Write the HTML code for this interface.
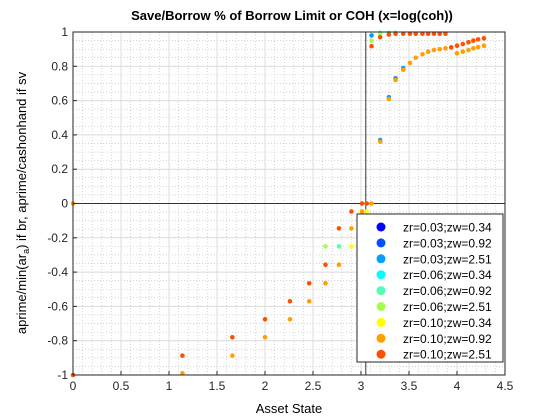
<!DOCTYPE html>
<html><head><meta charset="utf-8"><style>
body{margin:0;background:#fff;}
svg{display:block;font-family:"Liberation Sans",sans-serif;}
</style></head><body>
<svg id="chart" width="560" height="420" xmlns="http://www.w3.org/2000/svg">
<rect width="560" height="420" fill="#fff"/>
<g id="grid"></g>
<g id="marks"></g>
<g id="axes"></g>
<text x="292" y="20" text-anchor="middle" font-size="13" font-weight="bold">Save/Borrow % of Borrow Limit or COH (x=log(coh))</text>
<text x="289" y="413" text-anchor="middle" font-size="13">Asset State</text>
<text transform="translate(26,203) rotate(-90)" text-anchor="middle" font-size="13">aprime/min(ar<tspan font-size="9" dy="3">a</tspan><tspan dy="-3">) if br, aprime/cashonhand if sv</tspan></text>
<g id="legend"></g>
</svg>
<script>
const xTicks=[0,0.5,1,1.5,2,2.5,3,3.5,4,4.5];
const yTicks=[-1,-0.8,-0.6,-0.4,-0.2,0,0.2,0.4,0.6,0.8,1];
const legendLabels=["zr=0.03;zw=0.34","zr=0.03;zw=0.92","zr=0.03;zw=2.51","zr=0.06;zw=0.34","zr=0.06;zw=0.92","zr=0.06;zw=2.51","zr=0.10;zw=0.34","zr=0.10;zw=0.92","zr=0.10;zw=2.51"];
const seriesColors=["#0000ff","#0050ff","#00a0ff","#00ffff","#50ffb0","#a0ff50","#ffff00","#ffa000","#ff5000"];
const redX=[0,1.14,1.66,2.0,2.26,2.46,2.63,2.77,2.90,3.01,3.06,3.11,3.2,3.29,3.36,3.44,3.51,3.57,3.64,3.70,3.76,3.82,3.88,3.94,4.0,4.06,4.12,4.17,4.22,4.28];
const redY=[-1,-0.887,-0.78,-0.675,-0.57,-0.465,-0.357,-0.145,-0.047,0,0,0.917,0.97,0.985,0.99,0.99,0.99,0.99,0.99,0.99,0.99,0.99,0.99,0.91,0.92,0.93,0.94,0.95,0.957,0.963];
const orangeX=[0,1.14,1.66,2.0,2.26,2.46,2.63,2.77,2.90,3.01,3.11,3.2,3.29,3.36,3.44,3.51,3.57,3.64,3.70,3.76,3.82,3.88,3.94,4.0,4.06,4.12,4.17,4.22,4.28];
const orangeY=[0,-0.99,-0.887,-0.78,-0.675,-0.57,-0.465,-0.357,-0.145,-0.047,0,0.36,0.61,0.72,0.78,0.82,0.85,0.87,0.885,0.895,0.9,0.905,0.91,0.876,0.885,0.895,0.905,0.912,0.92];
const yellowX=[2.90,3.06,4.0,4.06];
const yellowY=[-0.25,-0.047,0.876,0.885];
const greenX=[2.63,3.11,3.2];
const greenY=[-0.25,0.95,0.99];
const tealX=[2.77,3.2,3.29,3.36];
const tealY=[-0.25,0.995,0.995,0.995];
const blueX=[3.11,3.2,3.29,3.36,3.44];
const blueY=[0.98,0.37,0.62,0.73,0.79];

const L=73,R=505,T=32,B=375;
const sx=v=>L+(v-0)/(4.5)*(R-L);
const sy=v=>B-(v+1)/2*(B-T);
const NS="http://www.w3.org/2000/svg";
function mk(tag,attrs,parent){const e=document.createElementNS(NS,tag);for(const k in attrs)e.setAttribute(k,attrs[k]);parent.appendChild(e);return e;}
const grid=document.getElementById('grid'),axes=document.getElementById('axes'),marks=document.getElementById('marks'),leg=document.getElementById('legend');
for(let i=1;i<45;i++){if(i%5===0)continue;const x=sx(i*0.1);const l=mk('line',{x1:x,x2:x,y1:T,y2:B,stroke:'#bbb','stroke-width':0.6,'stroke-dasharray':'1,2'},grid);

}
for(let i=1;i<40;i++){if(i%4===0)continue;const y=sy(-1+i*0.05);const l=mk('line',{x1:L,x2:R,y1:y,y2:y,stroke:'#bbb','stroke-width':0.6,'stroke-dasharray':'1,2'},grid);

}
xTicks.forEach(t=>{const x=sx(t);const l=mk('line',{x1:x,x2:x,y1:T,y2:B,stroke:'#dcdcdc','stroke-width':1},grid);


const tk=mk('line',{x1:x,x2:x,y1:B,y2:B-4,stroke:'#262626'},axes);


const tx=mk('text',{x:x,y:B+15,'text-anchor':'middle','font-size':12,fill:'#262626'},axes);tx.textContent=t;

});
yTicks.forEach(t=>{const y=sy(t);const l=mk('line',{x1:L,x2:R,y1:y,y2:y,stroke:'#dcdcdc','stroke-width':1},grid);


const tk=mk('line',{x1:L,x2:L+4,y1:y,y2:y,stroke:'#262626'},axes);


const tx=mk('text',{x:L-5,y:y+4,'text-anchor':'end','font-size':12,fill:'#262626'},axes);tx.textContent=Math.round(t*10)/10;

});
const z=mk('line',{x1:L,x2:R,y1:sy(0),y2:sy(0),stroke:'#333','stroke-width':1},grid);


const v=mk('line',{x1:sx(3.05),x2:sx(3.05),y1:T,y2:B,stroke:'#333','stroke-width':1},grid);


const frame=mk('rect',{x:L,y:T,width:R-L,height:B-T,fill:'none',stroke:'#262626','stroke-width':1},axes);


function plot(xs,ys,idx){xs.forEach((xv,i)=>{const c=mk('circle',{cx:sx(xv),cy:sy(ys[i]),r:2.3,fill:seriesColors[idx]},marks);

});}
plot(blueX,blueY,2);plot(tealX,tealY,4);plot(greenX,greenY,5);plot(yellowX,yellowY,6);plot(orangeX,orangeY,7);plot(redX,redY,8);
const lb=mk('rect',{x:357,y:214,width:146,height:148,fill:'#fff',stroke:'#262626','stroke-width':1},leg);


legendLabels.forEach((s,i)=>{const y=227+i*15.9;
const c=mk('circle',{cx:381,cy:y,r:4.5,fill:seriesColors[i]},leg);


const t=mk('text',{x:403,y:y+4.5,'font-size':12,fill:'#000'},leg);t.textContent=s;

});
</script>
</body></html>
